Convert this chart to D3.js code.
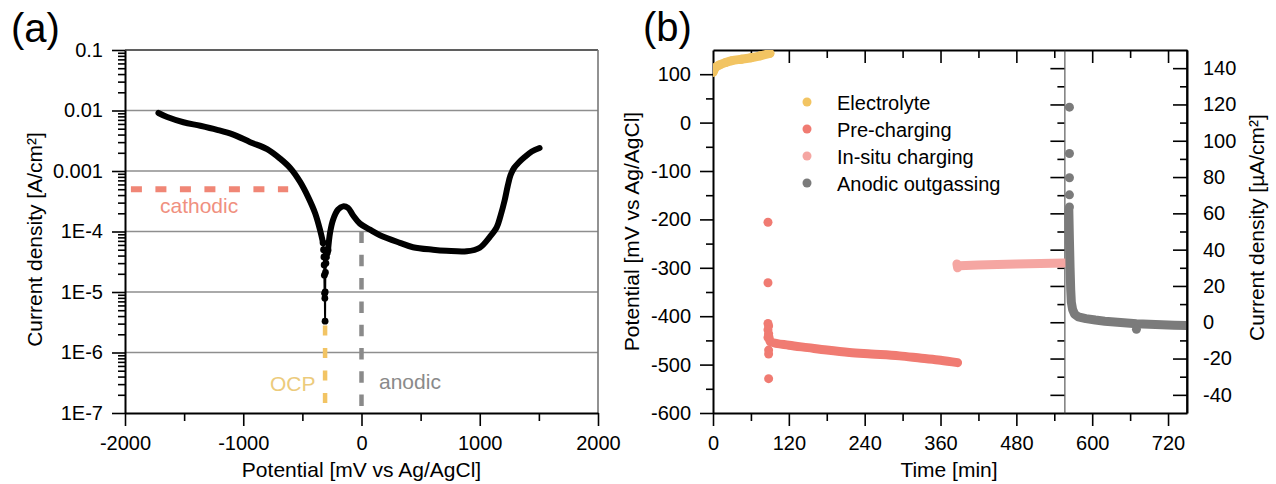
<!DOCTYPE html>
<html>
<head>
<meta charset="utf-8">
<script src="https://cdn.jsdelivr.net/npm/d3@7"></script>
<style>
  body { margin: 0; background: #fff; }
  svg { display: block; font-family: "Liberation Sans", Arial, sans-serif; }
</style>
</head>
<body>
<svg id="chart" width="1276" height="484"></svg>
<script>
// ---------- (a) potentiodynamic polarization curve ----------
// cathodic branch, potential in mV vs Ag/AgCl, current density in A/cm²
const cathodicPotential = [-1717, -1643, -1506, -1363, -1221, -1084, -941, -798, -688, -603, -519, -451, -392, -350, -325];
const cathodicCurrent   = [9.1e-3, 7.8e-3, 6.4e-3, 5.6e-3, 4.8e-3, 4.0e-3, 3.0e-3, 2.3e-3, 1.6e-3, 1.12e-3, 6.6e-4, 3.7e-4, 2.0e-4, 1.05e-4, 6.5e-5];
// sparse points around the corrosion potential
const ocpPotential = [-325, -321, -318, -316, -314, -312, -310, -308, -307, -305, -301, -296, -289, -283];
const ocpCurrent   = [6.5e-5, 5.0e-5, 3.8e-5, 2.8e-5, 1.9e-5, 9.5e-6, 7.9e-6, 3.3e-6, 1.0e-5, 2.1e-5, 3.0e-5, 3.8e-5, 4.4e-5, 4.9e-5];
// anodic branch
const anodicPotential = [-283, -266, -241, -198, -156, -114, -72, -13, 72, 156, 325, 435, 604, 718, 890, 1000, 1084, 1143, 1175, 1211, 1236, 1260, 1290, 1330, 1380, 1440, 1506];
const anodicCurrent   = [4.9e-5, 9.5e-5, 1.55e-4, 2.3e-4, 2.6e-4, 2.45e-4, 1.86e-4, 1.35e-4, 1.07e-4, 8.7e-5, 6.5e-5, 5.5e-5, 5.0e-5, 4.8e-5, 4.7e-5, 5.4e-5, 8.1e-5, 1.17e-4, 1.8e-4, 3.3e-4, 5.6e-4, 8.5e-4, 1.12e-3, 1.38e-3, 1.7e-3, 2.1e-3, 2.4e-3];

// reference levels used in the experiments
const cathodicLevel = { potential: [-1950, -620], current: [5e-4, 5e-4] };
const ocpLevel      = { potential: [-308, -308], current: [2.8e-6, 1e-7] };
const anodicLevel   = { potential: [0, 0], current: [1e-4, 1e-7] };

const aXTicks = [-2000, -1000, 0, 1000, 2000];
const aXMinor = [-1500, -500, 500, 1500];
const aYTicks = [1e-7, 1e-6, 1e-5, 1e-4, 1e-3, 1e-2, 1e-1];
const aYLabels = ["1E-7", "1E-6", "1E-5", "1E-4", "0.001", "0.01", "0.1"];

// ---------- (b) potential / current transients ----------
// time in min, potential in mV vs Ag/AgCl
const electrolyteTime = [0, 2, 5, 10, 20, 30, 45, 60, 75, 90];
const electrolytePot  = [104, 110, 115, 119, 124, 128, 131, 134, 138, 143];

const prechargeTime = [88, 91, 120, 150, 180, 216, 250, 295, 330, 360, 387];
const prechargePot  = [-440, -453, -460, -465, -470, -475, -478, -482, -487, -491, -496];
const prechargeSpikeTime = [87, 87, 87, 88, 87, 88, 87, 88, 88, 88];
const prechargeSpikePot  = [-206, -331, -415, -420, -428, -436, -444, -470, -478, -529];

const insituTime = [386, 387, 390, 420, 480, 556];
const insituPot  = [-292, -300, -296, -294, -292, -290];

// anodic outgassing, current density in µA/cm²
const outgasTime    = [563, 564, 565, 566, 567, 569, 572, 578, 590, 605, 620, 640, 670, 700, 730, 750];
const outgasCurrent = [62, 45, 30, 18, 11, 7, 4.5, 3, 2, 1.2, 0.6, 0, -0.8, -1.2, -1.6, -1.8];
const outgasSpikeTime    = [564, 564, 564, 564, 564, 670];
const outgasSpikeCurrent = [118.5, 93, 79.6, 70.2, 63.5, -3.9];

const bXTicks = [0, 120, 240, 360, 480, 600, 720];
const bXMinor = [60, 180, 300, 420, 540, 660];
const bPotTicks = [-600, -500, -400, -300, -200, -100, 0, 100];
const bPotMinor = [-550, -450, -350, -250, -150, -50, 50];
const bCurTicks = [-40, -20, 0, 20, 40, 60, 80, 100, 120, 140];
const bCurMinor = [-30, -10, 10, 30, 50, 70, 90, 110, 130];
const dividerTime = 556;

const legendNames  = ["Electrolyte", "Pre-charging", "In-situ charging", "Anodic outgassing"];
const seriesColors = ["#f2c462", "#f07b72", "#f5a6a2", "#7b7b7b"];

const svg = d3.select("#chart");
const TICK_FONT = 20, TITLE_FONT = 21;
// integer labels with a plain hyphen as the minus sign
const intFmt = d => String(Math.round(d));

// ============ panel (a) ============
const A = { left: 125, right: 598, top: 50, bottom: 413 };
const xA = d3.scaleLinear().domain([-2000, 2000]).range([A.left, A.right]);
const yA = d3.scaleLog().domain([1e-7, 0.1]).range([A.bottom, A.top]);
const gA = svg.append("g");

// horizontal decade grid
gA.append("g").selectAll("line").data(aYTicks.slice(1, -1)).join("line")
  .attr("x1", A.left).attr("x2", A.right)
  .attr("y1", d => yA(d)).attr("y2", d => yA(d))
  .attr("stroke", "#8e8e8e").attr("stroke-width", 1.6);
// frame top and right
gA.append("line").attr("x1", A.left).attr("x2", A.right).attr("y1", A.top).attr("y2", A.top)
  .attr("stroke", "#2a2a2a").attr("stroke-width", 1.6);
gA.append("line").attr("x1", A.right).attr("x2", A.right).attr("y1", A.top).attr("y2", A.bottom)
  .attr("stroke", "#777").attr("stroke-width", 1.6);

// y axis (log) with minor ticks
const aMinor = [];
aYTicks.slice(0, -1).forEach(d => { for (let k = 2; k <= 9; k++) aMinor.push(d * k); });
gA.append("g").attr("transform", `translate(${A.left},0)`)
  .call(d3.axisLeft(yA).tickValues(aMinor).tickSize(7).tickFormat(""))
  .call(g => g.select(".domain").remove());
gA.append("g").attr("transform", `translate(${A.left},0)`)
  .call(d3.axisLeft(yA).tickValues(aYTicks).tickSize(13).tickSizeOuter(0).tickPadding(9)
    .tickFormat((d, i) => aYLabels[i]));

// x axis
gA.append("g").attr("transform", `translate(0,${A.bottom})`)
  .call(d3.axisBottom(xA).tickValues(aXMinor).tickSize(8).tickFormat(""))
  .call(g => g.select(".domain").remove());
gA.append("g").attr("transform", `translate(0,${A.bottom})`)
  .call(d3.axisBottom(xA).tickValues(aXTicks).tickSize(13).tickSizeOuter(0).tickPadding(10)
    .tickFormat(intFmt));

// dashed reference levels
const lineA = d3.line().x(d => xA(d[0])).y(d => yA(d[1]));
function levelPath(lv, color, dash, width) {
  const pts = lv.potential.map((p, i) => [p, lv.current[i]]);
  gA.append("path").attr("d", lineA(pts)).attr("fill", "none")
    .attr("stroke", color).attr("stroke-width", width).attr("stroke-dasharray", dash);
}
levelPath(cathodicLevel, "#f08676", "11,13.5", 6);
levelPath(ocpLevel, "#f2c464", "10,12.5", 4.5);
levelPath(anodicLevel, "#8a8a8a", "11.5,11.8", 4.5);

// polarization curve
const curve = d3.line().x(d => xA(d[0])).y(d => yA(d[1])).curve(d3.curveCatmullRom.alpha(0.5));
const cathodicPts = cathodicPotential.map((p, i) => [p, cathodicCurrent[i]]);
const ocpPts = ocpPotential.map((p, i) => [p, ocpCurrent[i]]);
const anodicPts = anodicPotential.map((p, i) => [p, anodicCurrent[i]]);
gA.append("path").attr("d", curve(ocpPts)).attr("fill", "none")
  .attr("stroke", "#000").attr("stroke-width", 2);
gA.append("g").selectAll("circle").data(ocpPts).join("circle")
  .attr("cx", d => xA(d[0])).attr("cy", d => yA(d[1])).attr("r", 3.4).attr("fill", "#000");
[cathodicPts, anodicPts].forEach(pts => {
  gA.append("path").attr("d", curve(pts)).attr("fill", "none")
    .attr("stroke", "#000").attr("stroke-width", 6)
    .attr("stroke-linecap", "round").attr("stroke-linejoin", "round");
});

// annotations
gA.append("text").attr("x", 160).attr("y", 213).attr("fill", "#f0907f")
  .attr("font-size", 21).text("cathodic");
gA.append("text").attr("x", 270).attr("y", 391).attr("fill", "#eccb7c")
  .attr("font-size", 21).text("OCP");
gA.append("text").attr("x", 379).attr("y", 389).attr("fill", "#8a8a8a")
  .attr("font-size", 21).text("anodic");

// titles
gA.append("text").attr("x", (A.left + A.right) / 2).attr("y", 477).attr("text-anchor", "middle")
  .attr("font-size", TITLE_FONT).text("Potential [mV vs Ag/AgCl]");
gA.append("text").attr("transform", `translate(42,${(A.top + A.bottom) / 2 + 8}) rotate(-90)`)
  .attr("text-anchor", "middle").attr("font-size", TITLE_FONT).text("Current density [A/cm²]");
gA.append("text").attr("x", 11).attr("y", 42).attr("font-size", 40).text("(a)");

// ============ panel (b) ============
const B = { left: 713, right: 1187, top: 50, bottom: 413 };
const xB = d3.scaleLinear().domain([0, 750]).range([B.left, B.right]);
const yPot = d3.scaleLinear().domain([-600, 150]).range([B.bottom, B.top]);
const yCur = d3.scaleLinear().domain([-50, 150]).range([B.bottom, B.top]);
const gB = svg.append("g");

svg.append("defs").append("clipPath").attr("id", "clipB").append("rect")
  .attr("x", B.left).attr("y", B.top).attr("width", B.right - B.left).attr("height", B.bottom - B.top);

// top edge with inward ticks
gB.append("g").attr("transform", `translate(0,${B.top})`)
  .call(d3.axisTop(xB).tickValues(bXTicks.slice(1)).tickSize(-13).tickSizeOuter(0).tickFormat(""));
gB.append("g").attr("transform", `translate(0,${B.top})`)
  .call(d3.axisTop(xB).tickValues(bXMinor).tickSize(-8).tickFormat(""))
  .call(g => g.select(".domain").remove());
// bottom axis
gB.append("g").attr("transform", `translate(0,${B.bottom})`)
  .call(d3.axisBottom(xB).tickValues(bXMinor).tickSize(8).tickFormat(""))
  .call(g => g.select(".domain").remove());
gB.append("g").attr("transform", `translate(0,${B.bottom})`)
  .call(d3.axisBottom(xB).tickValues(bXTicks).tickSize(13).tickSizeOuter(0).tickPadding(10)
    .tickFormat(intFmt));
// left potential axis
gB.append("g").attr("transform", `translate(${B.left},0)`)
  .call(d3.axisLeft(yPot).tickValues(bPotMinor).tickSize(7).tickFormat(""))
  .call(g => g.select(".domain").remove());
gB.append("g").attr("transform", `translate(${B.left},0)`)
  .call(d3.axisLeft(yPot).tickValues(bPotTicks).tickSize(13).tickSizeOuter(0).tickPadding(9)
    .tickFormat(intFmt));
// current density axis: divider (no labels) and right edge (labels)
const xDiv = xB(dividerTime);
gB.append("g").attr("transform", `translate(${xDiv},0)`)
  .call(d3.axisLeft(yCur).tickValues(bCurMinor).tickSize(7).tickFormat(""))
  .call(g => g.select(".domain").remove());
gB.append("g").attr("transform", `translate(${xDiv},0)`)
  .call(d3.axisLeft(yCur).tickValues(bCurTicks).tickSize(14).tickSizeOuter(0).tickFormat(""))
  .call(g => g.select(".domain").attr("stroke", "#3a3a3a"));
gB.append("g").attr("transform", `translate(${B.right},0)`)
  .call(d3.axisRight(yCur).tickValues(bCurMinor).tickSize(-7).tickFormat(""))
  .call(g => g.select(".domain").remove());
const rAxis = gB.append("g").attr("transform", `translate(${B.right},0)`)
  .call(d3.axisRight(yCur).tickValues(bCurTicks).tickSize(-14).tickSizeOuter(0).tickFormat(intFmt));
rAxis.selectAll(".tick text").attr("x", 16);

// data series
const plotB = gB.append("g").attr("clip-path", "url(#clipB)");
const linePot = d3.line().x(d => xB(d[0])).y(d => yPot(d[1])).curve(d3.curveMonotoneX);
function trace(line, times, vals, color) {
  plotB.append("path").attr("d", line(times.map((t, i) => [t, vals[i]])))
    .attr("fill", "none").attr("stroke", color).attr("stroke-width", 9)
    .attr("stroke-linecap", "round").attr("stroke-linejoin", "round");
}
function dots(scale, times, vals, color) {
  plotB.append("g").selectAll("circle").data(times.map((t, i) => [t, vals[i]])).join("circle")
    .attr("cx", d => xB(d[0])).attr("cy", d => scale(d[1])).attr("r", 4.5).attr("fill", color);
}
trace(linePot, electrolyteTime, electrolytePot, seriesColors[0]);
dots(yPot, electrolyteTime, electrolytePot, seriesColors[0]);
dots(yPot, prechargeSpikeTime, prechargeSpikePot, seriesColors[1]);
trace(linePot, prechargeTime, prechargePot, seriesColors[1]);
trace(d3.line().x(d => xB(d[0])).y(d => yPot(d[1])), insituTime, insituPot, seriesColors[2]);
trace(d3.line().x(d => xB(d[0])).y(d => yCur(d[1])), outgasTime, outgasCurrent, seriesColors[3]);
dots(yCur, outgasSpikeTime, outgasSpikeCurrent, seriesColors[3]);

// right edge line over the data
gB.append("line").attr("x1", B.right).attr("x2", B.right).attr("y1", B.top).attr("y2", B.bottom)
  .attr("stroke", "#000").attr("stroke-width", 1.6);

// legend
const leg = gB.append("g").selectAll("g").data(legendNames).join("g")
  .attr("transform", (d, i) => `translate(807,${102 + i * 27})`);
leg.append("circle").attr("r", 4.5).attr("fill", (d, i) => seriesColors[i]);
leg.append("text").attr("x", 30).attr("y", 8).attr("font-size", 20).text(d => d);

// titles
gB.append("text").attr("x", 949).attr("y", 477).attr("text-anchor", "middle")
  .attr("font-size", TITLE_FONT).text("Time [min]");
gB.append("text").attr("transform", `translate(639,${(B.top + B.bottom) / 2}) rotate(-90)`)
  .attr("text-anchor", "middle").attr("font-size", TITLE_FONT).text("Potential [mV vs Ag/AgCl]");
gB.append("text").attr("transform", `translate(1264,${(B.top + B.bottom) / 2 - 4}) rotate(-90)`)
  .attr("text-anchor", "middle").attr("font-size", TITLE_FONT).text("Current density [µA/cm²]");
gB.append("text").attr("x", 643).attr("y", 41).attr("font-size", 40).text("(b)");

// shared axis styling
svg.selectAll(".tick text").attr("font-size", TICK_FONT).attr("fill", "#000")
  .attr("font-family", "'Liberation Sans', Arial, sans-serif");
svg.selectAll(".tick line").attr("stroke", "#000").attr("stroke-width", 1.6);
svg.selectAll(".domain").filter(function () { return !this.getAttribute("stroke") || this.getAttribute("stroke") === "currentColor"; })
  .attr("stroke", "#000").attr("stroke-width", 2);
</script>
</body>
</html>
